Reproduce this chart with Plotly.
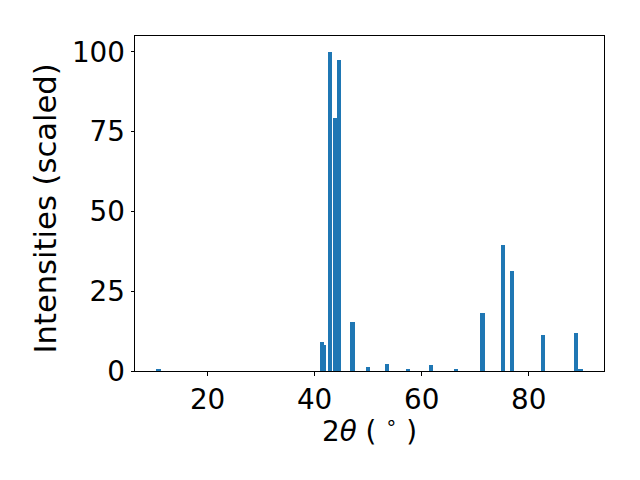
import plotly.graph_objects as go

two_theta = [10.82, 41.38, 41.70, 42.82, 43.79, 44.60, 47.07, 49.97, 53.53, 57.47,
             61.78, 66.46, 71.39, 75.26, 76.82, 82.66, 88.85, 89.69]
intensity = [0.4, 9.1, 8.3, 100.0, 79.2, 97.5, 15.4, 1.35, 2.2, 0.5,
             1.9, 0.7, 18.2, 39.6, 31.4, 11.3, 12.0, 0.4]
x_ticks = [20, 40, 60, 80]
y_ticks = [0, 25, 50, 75, 100]
x_label = "2<i>θ</i> ( <sup>∘</sup> )"
y_label = "Intensities (scaled)"

font = dict(family="DejaVu Sans", size=27.8, color="black")
ylab_font = dict(family="DejaVu Sans", size=30.6, color="black")

fig = go.Figure(go.Bar(
    x=two_theta, y=intensity, width=0.8,
    marker=dict(color="#1f77b4", line=dict(width=0)),
))

axis_common = dict(
    showline=True, linecolor="black", linewidth=1, mirror=True,
    ticks="outside", ticklen=3.5, tickwidth=1, tickcolor="black",
    showgrid=False, zeroline=False, tickfont=font, automargin=False,
)

L, R, T, B = 135, 36, 36, 109
pw, ph = 640 - L - R, 480 - T - B

fig.update_layout(
    width=640, height=480,
    margin=dict(l=L, r=R, t=T, b=B),
    paper_bgcolor="white", plot_bgcolor="white",
    showlegend=False, bargap=0,
    font=font,
    xaxis=dict(range=[6.44, 94.07], tickvals=x_ticks, **axis_common),
    yaxis=dict(range=[0, 105], tickvals=y_ticks, **axis_common),
    annotations=[
        dict(text=x_label, xref="paper", yref="paper", x=0.5,
             y=-(429 - (480 - B)) / ph, xanchor="center", yanchor="middle",
             showarrow=False, font=font),
        dict(text=y_label, xref="paper", yref="paper", x=-(L - 45) / pw,
             y=((480 - B) - 208.5) / ph, xanchor="center", yanchor="middle",
             textangle=-90, showarrow=False, font=ylab_font),
    ],
)

fig.write_html("out.html", config={"displayModeBar": False},
               post_script="document.body.style.margin='0';")
